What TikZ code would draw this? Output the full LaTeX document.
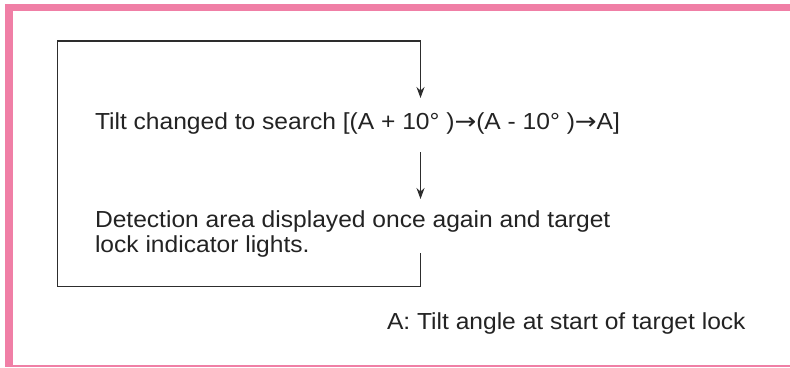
\documentclass[tikz,border=0pt]{standalone}
\usepackage{fontspec}
\usepackage{graphicx}
\setmainfont[FakeStretch=1.06]{Liberation Sans}
\newfontfamily\arrowfont{DejaVu Sans}
\usetikzlibrary{arrows.meta}
\definecolor{framepink}{RGB}{240,127,166}
\definecolor{linegray}{RGB}{45,45,45}
\definecolor{textgray}{RGB}{35,35,35}
\newcommand{\rarr}{\scalebox{1.12}[1]{\arrowfont →}}
\begin{document}
\begin{tikzpicture}[x=1pt,y=-1pt,
  txt/.style={anchor=base west,inner sep=0pt,outer sep=0pt,text=textgray,
    font=\fontsize{23.2}{25}\selectfont,align=left},
  flowline/.style={draw=linegray,line width=1.4pt},
  flowarrow/.style={flowline,-{Stealth[length=11pt,width=8pt]}}]
\useasboundingbox (0,0) rectangle (790,367);
% pink frame
\fill[framepink] (5,4) rectangle (790,11);
\fill[framepink] (5,4) rectangle (13,367);
\fill[framepink] (5,364.5) rectangle (790,367);
% text nodes
\node[txt] (tilt) at (95,129) {Tilt changed to search [(A + 10° )\rarr(A - 10° )\rarr A]};
\node[txt] (detect) at (95,252) {Detection area displayed once again and target\\lock indicator lights.};
\node[txt] (note) at (387,329) {A: Tilt angle at start of target lock};
% coordinates
\coordinate (loopend) at (420.5,253);
\coordinate (cornerbr) at (420.5,286.5);
\coordinate (cornerbl) at (57.5,286.5);
\coordinate (cornertl) at (57.5,41);
\coordinate (cornertr) at (420.5,41);
\coordinate (tip1) at (420.5,98);
\coordinate (start2) at (420.5,152);
\coordinate (tip2) at (420.5,199);
\draw[flowline] (loopend) -- (cornerbr) -- (cornerbl) -- (cornertl) -- (cornertr);
\draw[flowarrow] (cornertr) -- (tip1);
\draw[flowarrow] (start2) -- (tip2);
\end{tikzpicture}
\end{document}
